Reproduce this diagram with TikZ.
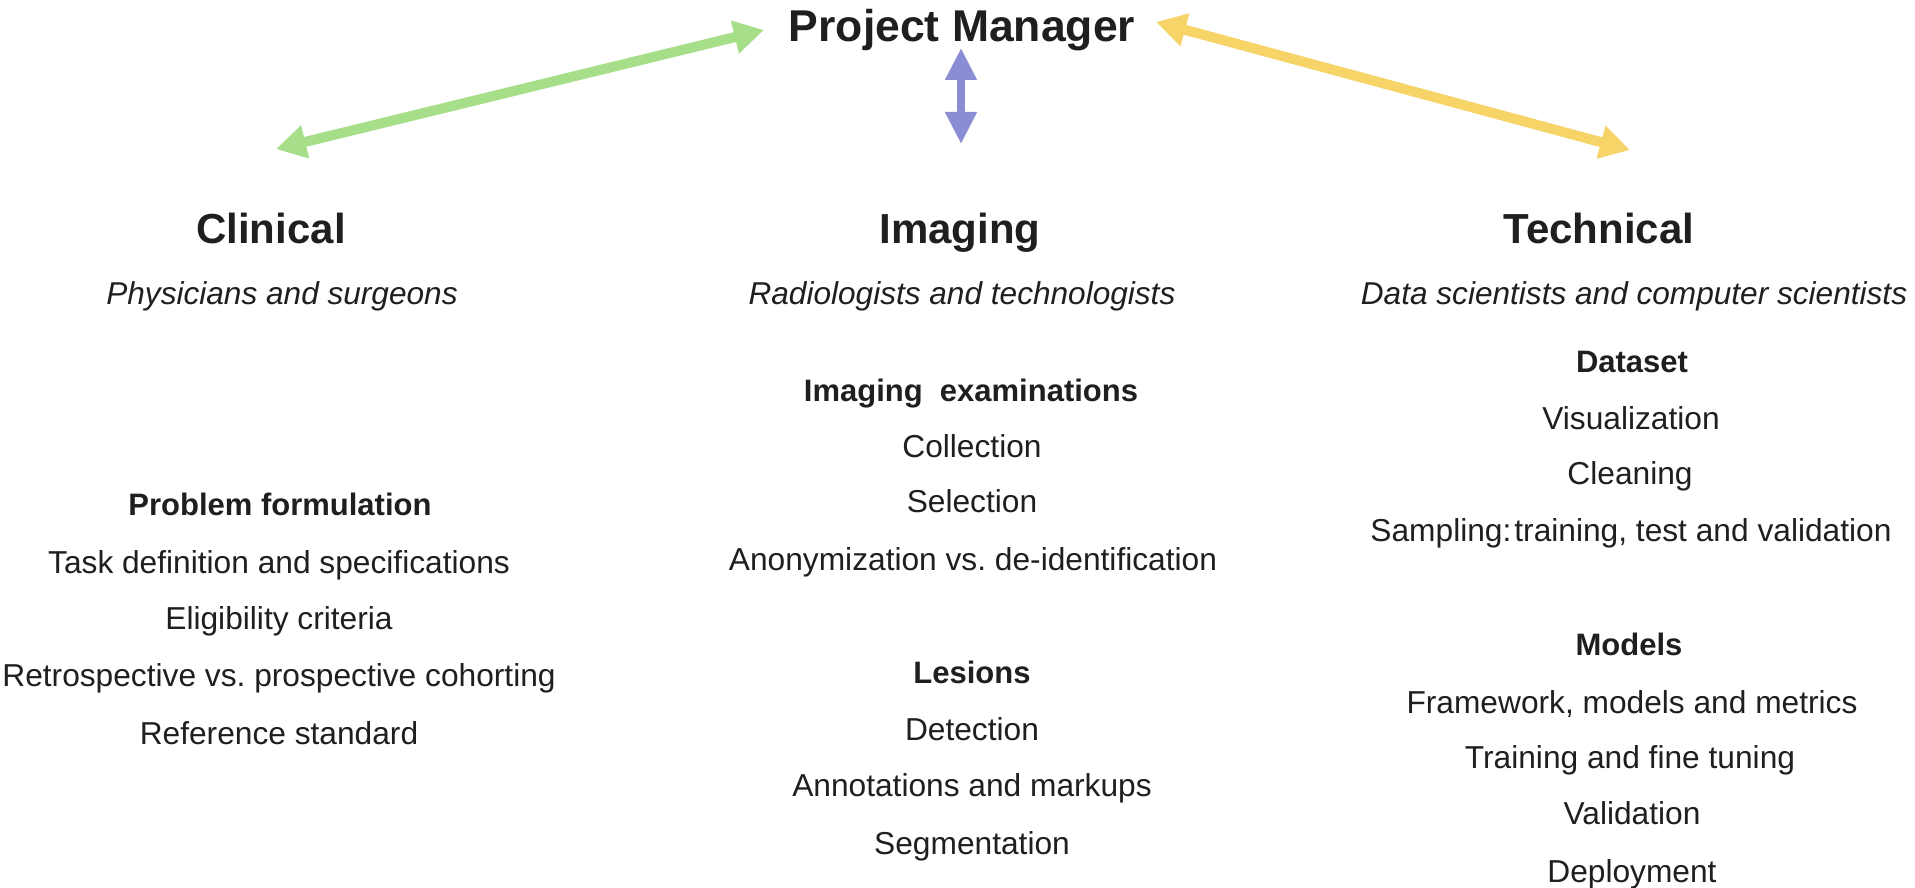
\documentclass[tikz,border=0pt]{standalone}
\usepackage{fontspec}
\setmainfont{Liberation Sans}
\usetikzlibrary{arrows.meta}
\frenchspacing
\definecolor{linkgreen}{RGB}{166,222,138}
\definecolor{linkyellow}{RGB}{246,212,104}
\definecolor{linkpurple}{RGB}{138,140,212}
\tikzset{
  lbl/.style={inner sep=0pt, anchor=base, text=black!88},
  headline/.style={lbl, font=\fontsize{42}{48}\selectfont\bfseries},
  roleline/.style={lbl, font=\fontsize{31.6}{36}\selectfont\itshape},
  topicline/.style={lbl, font=\fontsize{31}{36}\selectfont\bfseries},
  itemline/.style={lbl, font=\fontsize{31.7}{36}\selectfont},
  duplex/.style={line width=10pt, {Triangle[width=32pt,length=30pt]}-{Triangle[width=32pt,length=30pt]}},
  duplexshort/.style={line width=7.5pt, {Triangle[width=30pt,length=32pt]}-{Triangle[width=30pt,length=32pt]}},
}
\begin{document}
\begin{tikzpicture}[x=1pt,y=-1pt]
\useasboundingbox (0,0) rectangle (1915,888);
\fill[white] (0,0) rectangle (1915,888);

% top of the hierarchy
\node[headline, font=\fontsize{44.5}{50}\selectfont\bfseries] (pm) at (962,42) {Project Manager};

% column headings
\node[headline] (clin) at (271,243) {Clinical};
\node[headline] (imag) at (960,243) {Imaging};
\node[headline] (tech) at (1599,243) {Technical};

\node[roleline] (clinrole) at (282,304) {Physicians and surgeons};
\node[roleline] (imagrole) at (962,304) {Radiologists and technologists};
\node[roleline] (techrole) at (1634,304) {Data scientists and computer scientists};

% clinical column
\node[topicline] (c0) at (280,515) {Problem formulation};
\node[itemline] (c1) at (279,573) {Task definition and specifications};
\node[itemline] (c2) at (279,629) {Eligibility criteria};
\node[itemline] (c3) at (279,686) {Retrospective vs. prospective cohorting};
\node[itemline] (c4) at (279,744) {Reference standard};

% imaging column
\node[topicline] (i0) at (971,401) {Imaging\ \ examinations};
\node[itemline] (i1) at (972,457) {Collection};
\node[itemline] (i2) at (972,512) {Selection};
\node[itemline] (i3) at (973,570) {Anonymization vs. de-identification};
\node[topicline] (i4) at (972,683) {Lesions};
\node[itemline] (i5) at (972,740) {Detection};
\node[itemline] (i6) at (972,796) {Annotations and markups};
\node[itemline] (i7) at (972,854) {Segmentation};

% technical column
\node[topicline] (t0) at (1632,372) {Dataset};
\node[itemline] (t1) at (1631,429) {Visualization};
\node[itemline] (t2) at (1630,484) {Cleaning};
\node[itemline] (t3) at (1631,541) {Sampling:\hspace{3pt}training, test and validation};
\node[topicline] (t4) at (1629,655) {Models};
\node[itemline] (t5) at (1632,713) {Framework, models and metrics};
\node[itemline] (t6) at (1630,768) {Training and fine tuning};
\node[itemline] (t7) at (1632,824) {Validation};
\node[itemline] (t8) at (1632,882) {Deployment};

% connector end points
\coordinate (gA) at (276,149);
\coordinate (gB) at (764,30);
\coordinate (pA) at (961,48);
\coordinate (pB) at (961,144);
\coordinate (yA) at (1156,22);
\coordinate (yB) at (1630,150);

\draw[duplex, draw=linkgreen, fill=linkgreen] (gA) -- (gB);
\draw[duplexshort, draw=linkpurple, fill=linkpurple] (pA) -- (pB);
\draw[duplex, draw=linkyellow, fill=linkyellow] (yA) -- (yB);
\end{tikzpicture}
\end{document}
